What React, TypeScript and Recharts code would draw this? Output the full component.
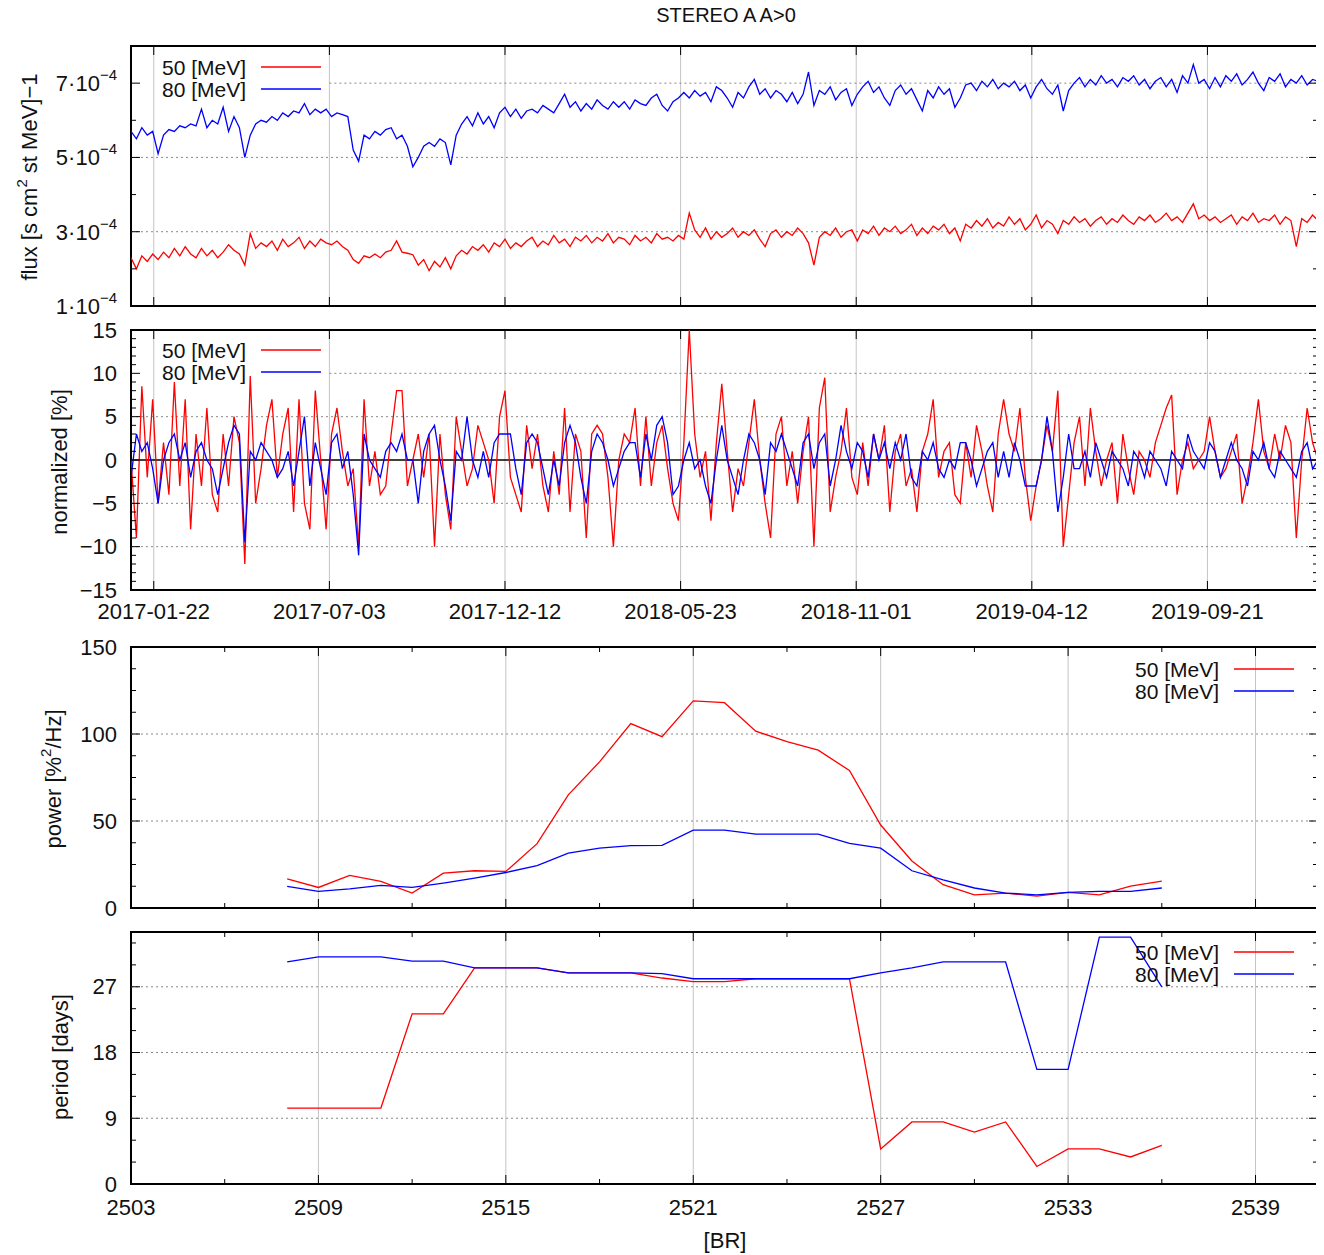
import React from 'react';
import { LineChart, Line, XAxis, YAxis, CartesianGrid, ReferenceLine, ReferenceArea } from 'recharts';

const FONT = '"Liberation Sans", Arial, Helvetica, sans-serif';
const INK = '#111';
const RED = '#ff0000';
const BLUE = '#0000ff';

const energies = ['50 [MeV]', '80 [MeV]'];
const energyColors = [RED, BLUE];

// one sample every DAY_STEP days from 2017-01-01; flux in units of 1e-4
const DAY_STEP = 5;
const flux50 = [
  2.3, 2.0, 2.35, 2.2, 2.4, 2.25, 2.45, 2.3, 2.55, 2.35,
  2.6, 2.4, 2.3, 2.55, 2.35, 2.5, 2.3, 2.45, 2.65, 2.5,
  2.4, 2.1, 2.95, 2.55, 2.7, 2.6, 2.75, 2.5, 2.8, 2.6,
  2.7, 2.85, 2.55, 2.75, 2.6, 2.8, 2.7, 2.65, 2.75, 2.6,
  2.5, 2.25, 2.15, 2.35, 2.3, 2.4, 2.3, 2.45, 2.5, 2.75,
  2.45, 2.42, 2.38, 2.1, 2.25, 1.95, 2.2, 2.05, 2.3, 2.0,
  2.35, 2.5, 2.4, 2.6, 2.5, 2.65, 2.45, 2.7, 2.6, 2.8,
  2.55, 2.7, 2.6, 2.75, 2.85, 2.6, 2.75, 2.65, 2.9, 2.7,
  2.8, 2.6, 2.85, 2.75, 2.9, 2.7, 2.85, 2.75, 2.95, 2.7,
  2.85, 2.8, 2.65, 2.9, 2.75, 2.85, 2.7, 2.95, 2.8, 2.85,
  2.75, 2.9, 2.8, 3.5, 3.05, 2.85, 3.1, 2.8, 3.0, 2.85,
  2.95, 3.1, 2.85, 3.0, 2.9, 3.05, 2.8, 2.6, 2.95, 3.05,
  2.85, 3.0, 2.9, 3.1, 2.95, 2.7, 2.1, 2.85, 3.0, 2.9,
  3.1, 2.85, 3.0, 3.05, 2.75, 3.05, 2.95, 3.15, 2.9, 3.1,
  3.0, 3.15, 2.95, 3.05, 3.2, 2.9, 3.1, 2.95, 3.15, 3.05,
  3.2, 2.95, 3.1, 2.75, 3.2, 3.1, 3.3, 3.15, 3.35, 3.1,
  3.25, 3.15, 3.4, 3.2, 3.35, 3.05, 3.2, 3.45, 3.1, 3.3,
  3.2, 2.95, 3.3, 3.2, 3.4, 3.25, 3.35, 3.15, 3.3, 3.4,
  3.2, 3.35, 3.25, 3.45, 3.3, 3.2, 3.4, 3.3, 3.45, 3.25,
  3.35, 3.5, 3.3, 3.4, 3.25, 3.5, 3.75, 3.35, 3.45, 3.3,
  3.4, 3.25, 3.35, 3.45, 3.2, 3.4, 3.3, 3.5, 3.25, 3.35,
  3.3, 3.45, 3.2, 3.4, 3.3, 2.6, 3.35, 3.25, 3.45, 3.3,
];
const flux80 = [
  5.7, 5.5, 5.8, 5.6, 5.7, 5.1, 5.6, 5.75, 5.7, 5.85,
  5.8, 5.9, 5.85, 6.3, 5.8, 6.0, 5.9, 6.35, 5.7, 6.1,
  5.8, 5.0, 5.6, 5.9, 6.0, 5.95, 6.1, 6.0, 6.2, 6.1,
  6.25, 6.2, 6.45, 6.15, 6.3, 6.2, 6.3, 6.1, 6.2, 6.15,
  6.1, 5.2, 4.9, 5.6, 5.5, 5.7, 5.6, 5.75, 5.8, 5.5,
  5.6, 5.3, 4.75, 5.0, 5.3, 5.4, 5.3, 5.5, 5.4, 4.8,
  5.6, 5.9, 6.1, 5.85, 6.2, 5.9, 6.1, 5.8, 6.2, 6.35,
  6.1, 6.3, 6.05, 6.25, 6.3, 6.2, 6.4, 6.3, 6.2, 6.45,
  6.7, 6.35, 6.5, 6.25, 6.45, 6.3, 6.55, 6.4, 6.3, 6.5,
  6.35, 6.5, 6.3, 6.55, 6.45, 6.4, 6.6, 6.7, 6.4, 6.25,
  6.5, 6.6, 6.75, 6.6, 6.8, 6.65, 6.75, 6.5, 6.9, 6.8,
  6.6, 6.35, 6.75, 6.6, 6.9, 7.1, 6.7, 6.85, 6.6, 6.8,
  6.7, 6.5, 6.75, 6.45, 6.7, 7.3, 6.4, 6.8, 6.7, 6.9,
  6.55, 6.75, 6.85, 6.4, 6.7, 6.9, 7.05, 6.75, 6.9, 6.6,
  6.4, 6.8, 6.95, 6.7, 6.85, 6.55, 6.25, 6.8, 6.6, 6.9,
  6.7, 6.85, 6.35, 6.6, 6.95, 7.0, 6.8, 7.05, 6.9, 7.1,
  6.85, 7.0, 6.9, 7.05, 6.8, 6.95, 6.6, 6.9, 7.1, 6.85,
  6.7, 6.95, 6.25, 6.8, 7.0, 7.15, 6.9, 7.1, 6.95, 7.2,
  7.0, 7.1, 6.9, 7.15, 7.05, 7.2, 6.95, 7.1, 6.85, 7.05,
  7.15, 6.9, 7.1, 6.75, 7.2, 7.0, 7.5, 7.0, 7.1, 6.85,
  7.15, 6.9, 7.2, 7.05, 7.25, 6.95, 7.1, 7.3, 7.0, 6.8,
  7.15, 7.05, 7.25, 6.9, 7.1, 7.0, 7.2, 6.95, 7.1, 7.05,
];
const norm50 = [
  0, -9, 8.5, -2, 7, -5, 2, -4, 9, -3,
  7, -8, 3, -3, 6, -4, -6, 3, -3, 5,
  2, -12, 9.7, -5, -1, 4, 7, -2, 3, 6,
  -6, 7, -5, -8, 8, 0, -8, 3, 6, 1,
  -3, -1, -10, 7, -3, 1, -4, -3, 3, 8,
  8, -3, 0, 3, -2, 3, -10, 3, -4, -8,
  5, 1, -3, -1, 4, 2, 0, -5, 5, 8,
  -2, -4, -6, 4, -1, 3, -3, -6, 1, -4,
  6, -6, 3, 1, -9, 3, 4, 3, -2, -10,
  0, 3, 2, 6, -3, 5, -3, 2, 4, -1,
  -5, -7, 2, 15, 3, -2, 1, -7, 2, 8.8,
  1, -6, -1, -3, 2, 7, 0, -5, -9, 3,
  5, -3, 1, -5, 1, 5, -10, 6, 9.5, -6,
  -2, 1, 6, -2, -4, 2, -3, 3, 0, 4,
  -6, 1, 3, -3, -1, -6, 1, 3, 7, -2,
  1, 2, -4, -5, 2, -2, 4, 1, -3, -6,
  3, 7, 3, 1, 6, -2, -7, -3, 0, 4,
  1, 8, -10, -4, 2, 5, -3, 6, 1, -3,
  0, 2, -5, 3, -1, -4, 1, 0, -2, 2,
  4, 6, 7.5, -4, 0, 2, -1, 0, 1, 5,
  1, -2, -1, 1, 3, -5, -2, 2, 7, 1,
  -1, 3, 0, 4, 2, -9, 0, 6, 2, 0,
];
const norm80 = [
  -2, 3, 1, 2, -1, -5, 0, 2, 3, 0,
  2, -2, 1, 2, 0, -1, -4, -1, 2, 4,
  3, -9.5, 1, 0, 2, 1, 0, -2, -1, 1,
  -3, 1, 5, -3, 2, -1, -4, 2, 3, -1,
  1, -4, -11, 3, 0, -1, -2, 1, 2, 1,
  3, 0, 0, -5, 1, 3, 4, 0, -3, -7,
  1, 0, 5, 0, -2, 1, -2, 2, 3, 3,
  3, -1, -4, 2, 3, 2, -1, -4, 0, -3,
  2, 4, 2, -2, -5, 1, 3, 2, 0, -3,
  -1, 1, 2, 2, -2, 3, 0, 4, 5, 2,
  -4, -3, 0, 2, -1, 0, -3, -5, 0, 4,
  0, -2, -4, 0, 3, 2, 0, -4, 2, 1,
  3, 1, -1, -3, 2, 3, -1, 2, 3, -3,
  0, 4, 1, -1, 2, 1, -2, 3, 0, 2,
  -1, 2, 0, 3, -2, -3, 1, 0, 2, -1,
  -2, 0, -1, 2, 2, 0, -3, -1, 1, 2,
  -2, 1, -2, 2, 0, -3, -3, -3, 0, 5,
  1, -6, -2, 3, -1, -1, 1, -2, 2, 0,
  -2, 1, 0, -1, -3, 1, 0, -2, 1, 0,
  -1, -3, 1, 0, -1, 3, 1, 0, -1, 2,
  1, -2, 0, 2, 0, -1, -3, 1, 0, 2,
  -1, -2, 1, 0, -1, -2, 1, 2, -1, 0,
];

const dateTickDays = [21, 183, 345, 507, 669, 831, 993];
const dateTickLabels = ['2017-01-22', '2017-07-03', '2017-12-12', '2018-05-23', '2018-11-01', '2019-04-12', '2019-09-21'];

// Bartels rotations
const rotations = [2508, 2509, 2510, 2511, 2512, 2513, 2514, 2515, 2516, 2517, 2518, 2519, 2520, 2521, 2522,
  2523, 2524, 2525, 2526, 2527, 2528, 2529, 2530, 2531, 2532, 2533, 2534, 2535, 2536];
const power50 = [16.8, 11.8, 18.7, 15.3, 8.6, 20, 21.4, 21, 37, 65, 84, 106, 98.5, 119, 118,
  101.6, 95.6, 90.7, 79, 47.7, 27, 13.4, 7.6, 8.6, 6.8, 9, 7.6, 12.6, 15.5];
const power80 = [12.4, 9.5, 11, 13, 11.8, 14.3, 17.2, 20.4, 24.4, 31.5, 34.4, 35.9, 36, 44.8, 44.8,
  42.4, 42.4, 42.4, 37.2, 34.4, 21.4, 16.2, 11.5, 8.6, 7.6, 9, 9.5, 9.5, 11.5];
const period50 = [10.4, 10.4, 10.4, 10.4, 23.3, 23.3, 29.6, 29.6, 29.6, 28.9, 28.9, 28.9, 28.2, 27.7, 27.7,
  28.1, 28.1, 28.1, 28.1, 4.8, 8.5, 8.5, 7.1, 8.5, 2.4, 4.8, 4.8, 3.7, 5.3];
const period80 = [30.4, 31.1, 31.1, 31.1, 30.5, 30.5, 29.6, 29.6, 29.6, 28.9, 28.9, 28.9, 28.8, 28.1, 28.1,
  28.1, 28.1, 28.1, 28.1, 28.9, 29.6, 30.4, 30.4, 30.4, 15.7, 15.7, 33.8, 33.8, 27];

const brTicks = [2503, 2506, 2509, 2512, 2515, 2518, 2521, 2524, 2527, 2530, 2533, 2536, 2539];
const brMajor = [2503, 2509, 2515, 2521, 2527, 2533, 2539];

const fluxTicks = [1, 2, 3, 4, 5, 6, 7];
const fluxMajor = [1, 3, 5, 7];
const normTicks = [-15, -14, -13, -12, -11, -10, -9, -8, -7, -6, -5, -4, -3, -2, -1, 0,
  1, 2, 3, 4, 5, 6, 7, 8, 9, 10, 11, 12, 13, 14, 15];
const normMajor = [-15, -10, -5, 0, 5, 10, 15];
const powerTicks = [0, 12.5, 25, 37.5, 50, 62.5, 75, 87.5, 100, 112.5, 125, 137.5, 150];
const powerMajor = [0, 50, 100, 150];
const periodTicks = [0, 3, 6, 9, 12, 15, 18, 21, 24, 27, 30, 33];
const periodMajor = [0, 9, 18, 27];

const timeRows = flux50.map((v, i) => ({
  day: i * DAY_STEP, f50: v, f80: flux80[i], n50: norm50[i], n80: norm80[i],
}));
const rotRows = rotations.map((br, i) => ({
  br, p50: power50[i], p80: power80[i], t50: period50[i], t80: period80[i],
}));

// layout
const PAGE_W = 1324;
const PLOT_LEFT = 131;
const PLOT_RIGHT = 1318;
const PAD = 12;
const TM = 6;
const DAY_MAX = 1095;

// gnuplot style: inward ticks, mirrored on the opposite border
const xTick = (majors: number[], label?: (v: number) => string, dy = 0) => (props: any) => {
  const { x, y, payload } = props;
  const v = payload.value;
  const major = majors.includes(v);
  const len = major ? 9 : 5;
  const bottom = y - TM;
  return (
    <g>
      <line x1={x} x2={x} y1={bottom} y2={bottom - len} stroke="#000" />
      <line x1={x} x2={x} y1={PAD} y2={PAD + len} stroke="#000" />
      {major && label ? (
        <text x={x} y={bottom + dy} textAnchor="middle" dominantBaseline="central"
          fontSize={22} fill={INK} fontFamily={FONT}>{label(v)}</text>
      ) : null}
    </g>
  );
};

const yTick = (majors: number[], label: (v: number) => React.ReactNode) => (props: any) => {
  const { x, y, payload } = props;
  const v = payload.value;
  const major = majors.includes(v);
  const len = major ? 9 : 5;
  const ax = x + TM;
  return (
    <g>
      <line x1={ax} x2={ax + len} y1={y} y2={y} stroke="#000" />
      <line x1={PLOT_RIGHT} x2={PLOT_RIGHT - len} y1={y} y2={y} stroke="#000" />
      {major ? (
        <text x={ax - 14} y={y} textAnchor="end" dominantBaseline="central"
          fontSize={22} fill={INK} fontFamily={FONT}>{label(v)}</text>
      ) : null}
    </g>
  );
};

const fluxLabel = (v: number) => (
  <>
    <tspan>{v}·10</tspan>
    <tspan dy={-9} fontSize={15}>−4</tspan>
  </>
);
const signed = (v: number) => (v < 0 ? `−${-v}` : `${v}`);
const dateLabel = (v: number) => dateTickLabels[dateTickDays.indexOf(v)];

const hGrid = (y: number, from: number, to: number) => (
  <ReferenceLine key={`g${y}`} segment={[{ x: from, y }, { x: to, y }]}
    stroke="#8a8a8a" strokeDasharray="2 3" strokeWidth={1} />
);

const lineProps = { type: 'linear' as const, dot: false, isAnimationActive: false, strokeWidth: 1.3 };
const axisCommon = { tickLine: false, axisLine: false, tickSize: 0, tickMargin: TM, interval: 0 as const };

const Key = ({ textRight, lineLeft, top }: { textRight: number; lineLeft: number; top: number }) => (
  <g>
    {energies.map((name, i) => (
      <g key={name}>
        <text x={textRight} y={top + i * 22} textAnchor="end" dominantBaseline="central"
          fontSize={21} fill={INK} fontFamily={FONT}>{name}</text>
        <line x1={lineLeft} x2={lineLeft + 60} y1={top + i * 22} y2={top + i * 22}
          stroke={energyColors[i]} strokeWidth={1.6} />
      </g>
    ))}
  </g>
);

const box = (x1: number, x2: number, y1: number, y2: number) => (
  <ReferenceArea x1={x1} x2={x2} y1={y1} y2={y2} fill="none" stroke="#000" strokeWidth={2} />
);

export default function App() {
  const margin = { top: PAD, right: PAGE_W - PLOT_RIGHT, bottom: 0, left: 0 };
  return (
    <div style={{ position: 'relative', width: PAGE_W, height: 1255, margin: '-8px 0 0 -8px', background: '#fff', fontFamily: FONT }}>
      {/* flux */}
      <div style={{ position: 'absolute', left: 0, top: 46 - PAD }}>
        <LineChart width={PAGE_W} height={PAD + 260 + 14} data={timeRows} margin={margin}>
          <CartesianGrid horizontal={false} verticalValues={dateTickDays} stroke="#c4c4c4" />
          <XAxis dataKey="day" type="number" domain={[0, DAY_MAX]} ticks={dateTickDays} height={14}
            {...axisCommon} tick={xTick(dateTickDays)} allowDataOverflow />
          <YAxis type="number" domain={[1, 8]} ticks={fluxTicks} width={PLOT_LEFT}
            {...axisCommon} tick={yTick(fluxMajor, fluxLabel)} allowDataOverflow />
          {hGrid(3, 0, DAY_MAX)}
          {hGrid(5, 0, DAY_MAX)}
          {hGrid(7, dateTickDays[1], DAY_MAX)}
          <Line dataKey="f50" name={energies[0]} stroke={RED} {...lineProps} />
          <Line dataKey="f80" name={energies[1]} stroke={BLUE} {...lineProps} />
          {box(0, DAY_MAX, 1, 8)}
        </LineChart>
      </div>

      {/* normalized */}
      <div style={{ position: 'absolute', left: 0, top: 330 - PAD }}>
        <LineChart width={PAGE_W} height={PAD + 260 + 40} data={timeRows} margin={margin}>
          <CartesianGrid horizontal={false} verticalValues={dateTickDays} stroke="#c4c4c4" />
          <XAxis dataKey="day" type="number" domain={[0, DAY_MAX]} ticks={dateTickDays} height={40}
            {...axisCommon} tick={xTick(dateTickDays, dateLabel, 21)} allowDataOverflow />
          <YAxis type="number" domain={[-15, 15]} ticks={normTicks} width={PLOT_LEFT}
            {...axisCommon} tick={yTick(normMajor, signed)} allowDataOverflow />
          {hGrid(-10, 0, DAY_MAX)}
          {hGrid(-5, 0, DAY_MAX)}
          {hGrid(5, 0, DAY_MAX)}
          {hGrid(10, dateTickDays[1], DAY_MAX)}
          <ReferenceLine y={0} stroke="#000" strokeWidth={1.5} />
          <Line dataKey="n50" name={energies[0]} stroke={RED} {...lineProps} />
          <Line dataKey="n80" name={energies[1]} stroke={BLUE} {...lineProps} />
          {box(0, DAY_MAX, -15, 15)}
        </LineChart>
      </div>

      {/* power */}
      <div style={{ position: 'absolute', left: 0, top: 647 - PAD }}>
        <LineChart width={PAGE_W} height={PAD + 261 + 14} data={rotRows} margin={margin}>
          <CartesianGrid horizontal={false} verticalValues={brMajor.slice(1)} stroke="#c4c4c4" />
          <XAxis dataKey="br" type="number" domain={[2503, 2541]} ticks={brTicks} height={14}
            {...axisCommon} tick={xTick(brMajor)} />
          <YAxis type="number" domain={[0, 150]} ticks={powerTicks} width={PLOT_LEFT}
            {...axisCommon} tick={yTick(powerMajor, (v) => `${v}`)} />
          {hGrid(50, 2503, 2541)}
          {hGrid(100, 2503, 2541)}
          <Line dataKey="p50" name={energies[0]} stroke={RED} {...lineProps} />
          <Line dataKey="p80" name={energies[1]} stroke={BLUE} {...lineProps} />
          {box(2503, 2541, 0, 150)}
        </LineChart>
      </div>

      {/* period */}
      <div style={{ position: 'absolute', left: 0, top: 932 - PAD }}>
        <LineChart width={PAGE_W} height={PAD + 252 + 40} data={rotRows} margin={margin}>
          <CartesianGrid horizontal={false} verticalValues={brMajor.slice(1)} stroke="#c4c4c4" />
          <XAxis dataKey="br" type="number" domain={[2503, 2541]} ticks={brTicks} height={40}
            {...axisCommon} tick={xTick(brMajor, (v) => `${v}`, 23)} />
          <YAxis type="number" domain={[0, 34.5]} ticks={periodTicks} width={PLOT_LEFT}
            {...axisCommon} tick={yTick(periodMajor, (v) => `${v}`)} />
          {hGrid(9, 2503, 2541)}
          {hGrid(18, 2503, 2541)}
          {hGrid(27, 2503, 2541)}
          <Line dataKey="t50" name={energies[0]} stroke={RED} {...lineProps} />
          <Line dataKey="t80" name={energies[1]} stroke={BLUE} {...lineProps} />
          {box(2503, 2541, 0, 34.5)}
        </LineChart>
      </div>

      <svg width={PAGE_W} height={1255} style={{ position: 'absolute', left: 0, top: 0, pointerEvents: 'none' }}>
        <text x={726} y={15} textAnchor="middle" dominantBaseline="central" fontSize={20} fill={INK} fontFamily={FONT}>
          STEREO A A&gt;0
        </text>
        <text transform="translate(29,177) rotate(-90)" textAnchor="middle" dominantBaseline="central"
          fontSize={22} fill={INK} fontFamily={FONT}>
          flux [s cm<tspan dy={-8} fontSize={15}>2</tspan><tspan dy={8}> st MeV]−1</tspan>
        </text>
        <text transform="translate(59,462) rotate(-90)" textAnchor="middle" dominantBaseline="central"
          fontSize={22} fill={INK} fontFamily={FONT}>normalized [%]</text>
        <text transform="translate(53,779) rotate(-90)" textAnchor="middle" dominantBaseline="central"
          fontSize={22} fill={INK} fontFamily={FONT}>
          power [%<tspan dy={-8} fontSize={15}>2</tspan><tspan dy={8}>/Hz]</tspan>
        </text>
        <text transform="translate(60,1057) rotate(-90)" textAnchor="middle" dominantBaseline="central"
          fontSize={22} fill={INK} fontFamily={FONT}>period [days]</text>
        <text x={725} y={1240} textAnchor="middle" dominantBaseline="central" fontSize={22} fill={INK} fontFamily={FONT}>[BR]</text>

        <Key textRight={246} lineLeft={261} top={67} />
        <Key textRight={246} lineLeft={261} top={350} />
        <Key textRight={1219} lineLeft={1234} top={669} />
        <Key textRight={1219} lineLeft={1234} top={952} />
      </svg>
    </div>
  );
}
